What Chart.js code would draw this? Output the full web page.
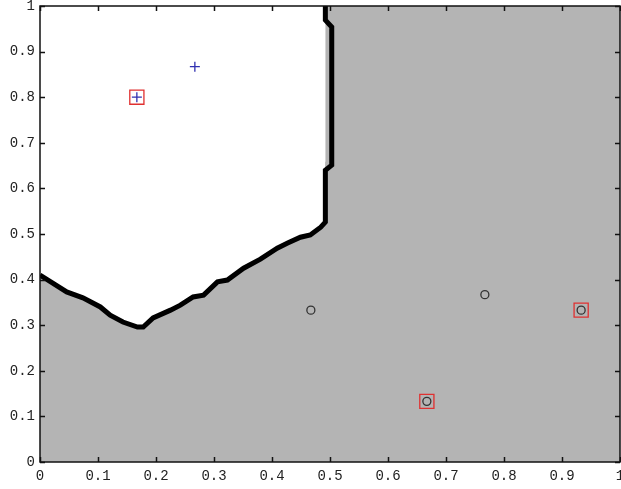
<!DOCTYPE html>
<html>
<head>
<meta charset="utf-8">
<script src="https://cdn.jsdelivr.net/npm/chart.js@4"></script>
<style>
  html, body { margin: 0; padding: 0; background: #fff; }
  #wrap { width: 621px; height: 489px; }
</style>
</head>
<body>
<div id="wrap"><canvas id="myChart" width="621" height="489"></canvas></div>
<script>
/* ===== DATA ===== */
const tickValues = [0, 0.1, 0.2, 0.3, 0.4, 0.5, 0.6, 0.7, 0.8, 0.9, 1];

// decision boundary (traced)
const boundaryX = [0, 0.046, 0.074, 0.104, 0.121, 0.143, 0.168, 0.178, 0.195, 0.225, 0.242, 0.264, 0.282, 0.306, 0.323, 0.351, 0.380, 0.409, 0.427, 0.449, 0.466, 0.484, 0.492, 0.492, 0.503, 0.503, 0.492, 0.492];
const boundaryY = [0.41, 0.373, 0.360, 0.340, 0.322, 0.307, 0.296, 0.296, 0.316, 0.333, 0.344, 0.362, 0.366, 0.395, 0.399, 0.425, 0.445, 0.469, 0.480, 0.493, 0.498, 0.515, 0.526, 0.640, 0.651, 0.954, 0.969, 1.0];

// class +1 (plus markers)
const plusX = [0.167, 0.267];
const plusY = [0.800, 0.867];

// class -1 (circle markers)
const circleX = [0.467, 0.767, 0.667, 0.933];
const circleY = [0.333, 0.367, 0.133, 0.333];

// support vectors (red squares)
const svX = [0.167, 0.667, 0.933];
const svY = [0.800, 0.133, 0.333];

const toPoints = (xs, ys) => xs.map((x, i) => ({ x: x, y: ys[i] }));

/* ===== PLOT BOX + INWARD TICKS ===== */
const matlabBox = {
    id: 'matlabBox',
    beforeDatasetsDraw(chart) {
        const a = chart.chartArea, ctx = chart.ctx;
        ctx.save();
        ctx.fillStyle = '#b4b4b4';
        ctx.fillRect(a.left, a.top, a.right - a.left, a.bottom - a.top);
        ctx.restore();
    },
    afterDraw(chart) {
        const a = chart.chartArea, ctx = chart.ctx;
        const xs = chart.scales.x, ys = chart.scales.y;
        const len = 5;
        ctx.save();
        ctx.strokeStyle = '#111';
        ctx.lineWidth = 1.5;
        ctx.strokeRect(a.left, a.top, a.right - a.left, a.bottom - a.top);
        ctx.beginPath();
        xs.ticks.forEach(t => {
            const px = Math.round(xs.getPixelForValue(t.value)) + 0.5;
            ctx.moveTo(px, a.bottom); ctx.lineTo(px, a.bottom - len);
            ctx.moveTo(px, a.top); ctx.lineTo(px, a.top + len);
        });
        ys.ticks.forEach(t => {
            const py = Math.round(ys.getPixelForValue(t.value)) + 0.5;
            ctx.moveTo(a.left, py); ctx.lineTo(a.left + len, py);
            ctx.moveTo(a.right, py); ctx.lineTo(a.right - len, py);
        });
        ctx.stroke();
        ctx.restore();
    }
};

const tickFont = { family: 'Liberation Mono', size: 14 };

var myChart = document.getElementById('myChart').getContext('2d');

var svmChart = new Chart(myChart, {
    type: 'scatter',
    data: {
        datasets: [{
            label: 'boundary',
            data: toPoints(boundaryX, boundaryY),
            showLine: true,
            borderColor: '#000',
            borderWidth: 5,
            backgroundColor: '#fff',
            fill: 'end',
            pointRadius: 0,
            tension: 0,
            order: 10,
        }, {
            label: 'support vectors',
            data: toPoints(svX, svY),
            pointStyle: 'rect',
            pointRadius: 10,
            pointBorderColor: '#e03030',
            pointBackgroundColor: 'rgba(0,0,0,0)',
            pointBorderWidth: 1.3,
            order: 3,
        }, {
            label: 'class 1',
            data: toPoints(plusX, plusY),
            pointStyle: 'cross',
            pointRadius: 5,
            pointBorderColor: '#3030b0',
            pointBorderWidth: 1.3,
            order: 1,
        }, {
            label: 'class 2',
            data: toPoints(circleX, circleY),
            pointStyle: 'circle',
            pointRadius: 4,
            pointBorderColor: '#333',
            pointBackgroundColor: 'rgba(0,0,0,0)',
            pointBorderWidth: 1.3,
            order: 2,
        }],
    },
    options: {
        responsive: false,
        animation: false,
        layout: { autoPadding: false, padding: { top: 6, right: 1, left: 0, bottom: 0 } },
        plugins: {
            legend: { display: false },
            tooltip: { enabled: false },
        },
        scales: {
            x: {
                type: 'linear',
                min: 0, max: 1,
                afterBuildTicks: s => { s.ticks = tickValues.map(v => ({ value: v })); },
                afterFit: s => { s.height = 27; s.paddingLeft = 0; s.paddingRight = 0; },
                grid: { display: false, drawTicks: false },
                border: { display: false },
                ticks: {
                    padding: 6,
                    color: '#222',
                    font: tickFont,
                    maxRotation: 0,
                    autoSkip: false,
                    callback: v => String(v),
                },
            },
            y: {
                type: 'linear',
                min: 0, max: 1,
                afterBuildTicks: s => { s.ticks = tickValues.map(v => ({ value: v })); },
                afterFit: s => { s.width = 40; s.paddingTop = 0; s.paddingBottom = 0; },
                grid: { display: false, drawTicks: false },
                border: { display: false },
                ticks: {
                    padding: 5,
                    color: '#222',
                    font: tickFont,
                    autoSkip: false,
                    callback: v => String(v),
                },
            },
        },
    },
    plugins: [matlabBox],
});
</script>
</body>
</html>
